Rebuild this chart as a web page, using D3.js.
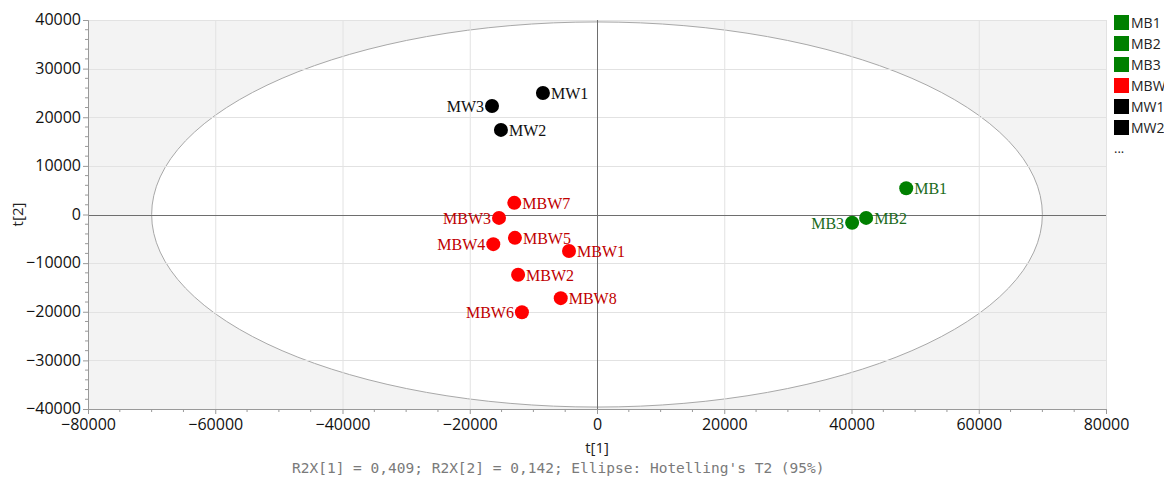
<!DOCTYPE html>
<html>
<head>
<meta charset="utf-8">
<script src="https://cdn.jsdelivr.net/npm/d3@7"></script>
<style>
  body { margin: 0; background: #fff; }
  svg { display: block; }
</style>
</head>
<body>
<div id="chart"></div>
<script>
// scores t[1], t[2]
const names = ["MW1", "MW2", "MW3", "MBW1", "MBW2", "MBW3", "MBW4", "MBW5", "MBW6", "MBW7", "MBW8", "MB1", "MB2", "MB3"];
const t1 = [-8500, -15100, -16500, -4400, -12400, -15400, -16300, -12900, -11800, -13000, -5700, 48600, 42300, 40100];
const t2 = [25000, 17400, 22300, -7500, -12400, -700, -6100, -4800, -20100, 2400, -17200, 5400, -700, -1700];
const groups = ["MW", "MW", "MW", "MBW", "MBW", "MBW", "MBW", "MBW", "MBW", "MBW", "MBW", "MB", "MB", "MB"];
const labelLeft = ["MW3", "MBW3", "MBW4", "MBW6", "MB3"];

const legendNames = ["MB1", "MB2", "MB3", "MBW", "MW1", "MW2"];
const legendGroups = ["MB", "MB", "MB", "MBW", "MW", "MW"];

const xTicks = [-80000, -60000, -40000, -20000, 0, 20000, 40000, 60000, 80000];
const yTicks = [-40000, -30000, -20000, -10000, 0, 10000, 20000, 30000, 40000];
const ellipseR = [70000, 39600];

const W = 1164, H = 478;
const margin = { left: 88, right: 58, top: 20, bottom: 69 };

const fillCol = { MW: "#000000", MBW: "#ff0000", MB: "#008000" };
const textCol = { MW: "#111111", MBW: "#c00000", MB: "#1b6b1b" };

const svg = d3.select("#chart").append("svg").attr("width", W).attr("height", H);

const x = d3.scaleLinear().domain([-80000, 80000]).range([margin.left, W - margin.right]);
const y = d3.scaleLinear().domain([-40000, 40000]).range([H - margin.bottom, margin.top]);

// plot background (outside ellipse grey)
svg.append("rect")
  .attr("x", x(-80000)).attr("y", y(40000))
  .attr("width", x(80000) - x(-80000)).attr("height", y(-40000) - y(40000))
  .attr("fill", "#f3f3f3");

svg.append("ellipse")
  .attr("cx", x(0)).attr("cy", y(0))
  .attr("rx", x(ellipseR[0]) - x(0)).attr("ry", y(0) - y(ellipseR[1]))
  .attr("fill", "#fff").attr("stroke", "#a8a8a8").attr("stroke-width", 1);

// grid
const grid = svg.append("g");
grid.selectAll(".gx").data(xTicks.filter(d => d !== 0 && d !== -80000)).enter().append("line")
  .attr("x1", d => x(d) + 0.5).attr("x2", d => x(d) + 0.5)
  .attr("y1", y(40000)).attr("y2", y(-40000))
  .attr("stroke", "#e2e2e2");
grid.selectAll(".gy").data(yTicks.filter(d => d !== 0 && d !== -40000)).enter().append("line")
  .attr("x1", x(-80000)).attr("x2", x(80000))
  .attr("y1", d => Math.round(y(d)) + 0.5).attr("y2", d => Math.round(y(d)) + 0.5)
  .attr("stroke", "#e2e2e2");

// zero lines
svg.append("line")
  .attr("x1", Math.round(x(0)) + 0.5).attr("x2", Math.round(x(0)) + 0.5)
  .attr("y1", y(40000)).attr("y2", y(-40000))
  .attr("stroke", "#6e6e6e");
svg.append("line")
  .attr("x1", x(-80000)).attr("x2", x(80000))
  .attr("y1", Math.round(y(0)) + 0.5).attr("y2", Math.round(y(0)) + 0.5)
  .attr("stroke", "#6e6e6e");

// axes
const xAxis = d3.axisBottom(x).tickValues(xTicks).tickFormat(d3.format("d")).tickSize(5).tickPadding(5);
const yAxis = d3.axisLeft(y).tickValues(yTicks).tickFormat(d3.format("d")).tickSize(5).tickPadding(2);

const gx = svg.append("g").attr("transform", `translate(0,${y(-40000)})`).call(xAxis);
const gy = svg.append("g").attr("transform", `translate(${x(-80000)},0)`).call(yAxis);

// minor ticks
gx.selectAll(".minor").data(d3.range(-75000, 80000, 5000).filter(d => d % 20000 !== 0)).enter().append("line")
  .attr("x1", d => x(d)).attr("x2", d => x(d)).attr("y1", 0).attr("y2", 3).attr("stroke", "#999");
gy.selectAll(".minor").data(d3.range(-38000, 40000, 2000).filter(d => d % 10000 !== 0)).enter().append("line")
  .attr("x1", 0).attr("x2", -3).attr("y1", d => y(d)).attr("y2", d => y(d)).attr("stroke", "#999");

[gx, gy].forEach(g => {
  g.select(".domain").attr("stroke", "#999");
  g.selectAll(".tick line").attr("stroke", "#999");
  g.selectAll(".tick text").attr("fill", "#111").style("font-family", "'Open Sans', 'Noto Sans', sans-serif").style("font-size", "16px");
});
gy.selectAll(".tick text").attr("dy", "0.3em");

// axis titles
svg.append("text").attr("x", x(0)).attr("y", 453).attr("text-anchor", "middle")
  .style("font-family", "'Open Sans', sans-serif").style("font-size", "15px").attr("fill", "#222").text("t[1]");
svg.append("text").attr("transform", `translate(23,${y(0)}) rotate(-90)`).attr("text-anchor", "middle")
  .style("font-family", "'Open Sans', sans-serif").style("font-size", "15px").attr("fill", "#222").text("t[2]");

svg.append("text").attr("x", 292).attr("y", 473).attr("text-anchor", "start")
  .style("font-family", "'DejaVu Sans Mono', monospace").style("font-size", "14.5px").attr("fill", "#7a7a7a")
  .text("R2X[1] = 0,409; R2X[2] = 0,142; Ellipse: Hotelling's T2 (95%)");

// points
const pts = names.map((n, i) => ({ name: n, t1: t1[i], t2: t2[i], group: groups[i] }));

svg.selectAll(".pt").data(pts).enter().append("circle")
  .attr("cx", d => x(d.t1)).attr("cy", d => y(d.t2)).attr("r", 7)
  .attr("fill", d => fillCol[d.group]);

svg.selectAll(".lbl").data(pts).enter().append("text")
  .attr("x", d => labelLeft.includes(d.name) ? x(d.t1) - 8 : x(d.t1) + 8)
  .attr("y", d => y(d.t2) + 6)
  .attr("text-anchor", d => labelLeft.includes(d.name) ? "end" : "start")
  .style("font-family", "'Liberation Serif', 'Times New Roman', serif").style("font-size", "16px")
  .attr("fill", d => textCol[d.group])
  .text(d => d.name);

// legend
const leg = svg.append("g").attr("transform", "translate(1114,15)");
const items = leg.selectAll(".li").data(legendNames).enter().append("g")
  .attr("transform", (d, i) => `translate(0,${i * 21})`);
items.append("rect").attr("width", 15).attr("height", 15)
  .attr("fill", (d, i) => fillCol[legendGroups[i]]);
items.append("text").attr("x", 17).attr("y", 13)
  .style("font-family", "'Open Sans', sans-serif").style("font-size", "14px").attr("fill", "#222")
  .text(d => d);
leg.append("text").attr("x", 0).attr("y", 6 * 21 + 12)
  .style("font-family", "'Open Sans', sans-serif").style("font-size", "13px").attr("fill", "#222").text("...");
</script>
</body>
</html>
